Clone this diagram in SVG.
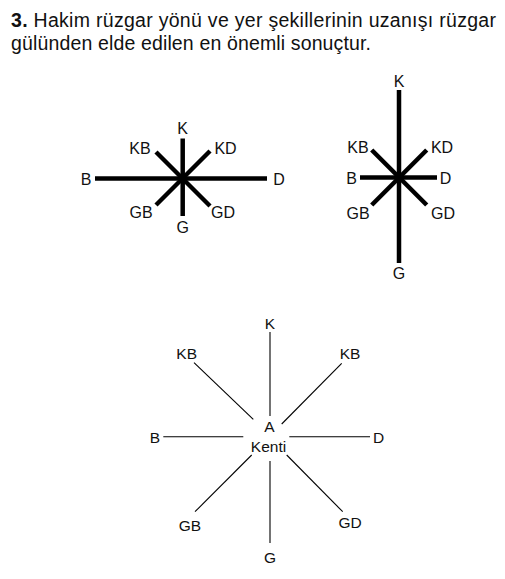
<svg xmlns="http://www.w3.org/2000/svg" width="505" height="579" viewBox="0 0 505 579">
<style>
text{font-family:"Liberation Sans",Arial,sans-serif;fill:#111}
.t{font-size:19.5px}
.l16{font-size:16px;text-anchor:middle}
.l15{font-size:15.5px;text-anchor:middle}
.thick{stroke:#000;stroke-width:4.5;fill:none}
.thin{stroke:#000;stroke-width:1.1;fill:none}
</style>
<rect width="505" height="579" fill="#fff"/>
<g id="title">
<text class="t" x="11" y="27" textLength="485" lengthAdjust="spacing"><tspan font-weight="bold">3.</tspan> Hakim rüzgar yönü ve yer şekillerinin uzanışı rüzgar</text>
<text class="t" x="11" y="50" textLength="360" lengthAdjust="spacing">gülünden elde edilen en önemli sonuçtur.</text>
</g>
<g id="rose1">
<g class="connectors">
<line class="thick" x1="95" y1="178.5" x2="267" y2="178.5"/>
<line class="thick" x1="182.7" y1="138.5" x2="182.7" y2="216"/>
<line class="thick" x1="156" y1="152" x2="210" y2="206"/>
<line class="thick" x1="210" y1="151" x2="156" y2="205"/>
</g>
<text class="l16" x="182.7" y="133.5">K</text>
<text class="l16" x="140" y="154">KB</text>
<text class="l16" x="225.5" y="154">KD</text>
<text class="l16" x="86" y="184.5">B</text>
<text class="l16" x="279" y="184.5">D</text>
<text class="l16" x="141" y="218">GB</text>
<text class="l16" x="182.7" y="232.5">G</text>
<text class="l16" x="223" y="218">GD</text>
</g>
<g id="rose2">
<g class="connectors">
<line class="thick" x1="399" y1="90" x2="399" y2="263"/>
<line class="thick" x1="360" y1="177.5" x2="437" y2="177.5"/>
<line class="thick" x1="371.7" y1="150" x2="426.7" y2="205"/>
<line class="thick" x1="426.7" y1="150" x2="371.7" y2="205"/>
</g>
<text class="l16" x="399" y="86.5">K</text>
<text class="l16" x="358" y="153">KB</text>
<text class="l16" x="442" y="153">KD</text>
<text class="l16" x="351.5" y="184">B</text>
<text class="l16" x="445.5" y="184">D</text>
<text class="l16" x="358" y="219">GB</text>
<text class="l16" x="443" y="219">GD</text>
<text class="l16" x="399" y="279">G</text>
</g>
<g id="rose3">
<g class="connectors">
<line class="thin" x1="270" y1="332" x2="270" y2="416"/>
<line class="thin" x1="270" y1="461" x2="270" y2="543"/>
<line class="thin" x1="163.3" y1="436.7" x2="243.3" y2="436.7"/>
<line class="thin" x1="289.3" y1="436.7" x2="370" y2="436.7"/>
<line class="thin" x1="194" y1="362.7" x2="253.3" y2="419.3"/>
<line class="thin" x1="341.7" y1="363.3" x2="281.7" y2="424"/>
<line class="thin" x1="251.7" y1="455" x2="195" y2="511.7"/>
<line class="thin" x1="286.7" y1="455" x2="342.7" y2="511.7"/>
</g>
<text class="l15" x="269.5" y="432">A</text>
<text class="l15" x="268.5" y="451.5">Kenti</text>
<text class="l15" x="270" y="328.5">K</text>
<text class="l15" x="186.7" y="359">KB</text>
<text class="l15" x="350" y="359">KB</text>
<text class="l15" x="155" y="442.5">B</text>
<text class="l15" x="378.5" y="442.5">D</text>
<text class="l15" x="190" y="530.5">GB</text>
<text class="l15" x="350" y="527.5">GD</text>
<text class="l15" x="270" y="562.5">G</text>
</g>
</svg>
